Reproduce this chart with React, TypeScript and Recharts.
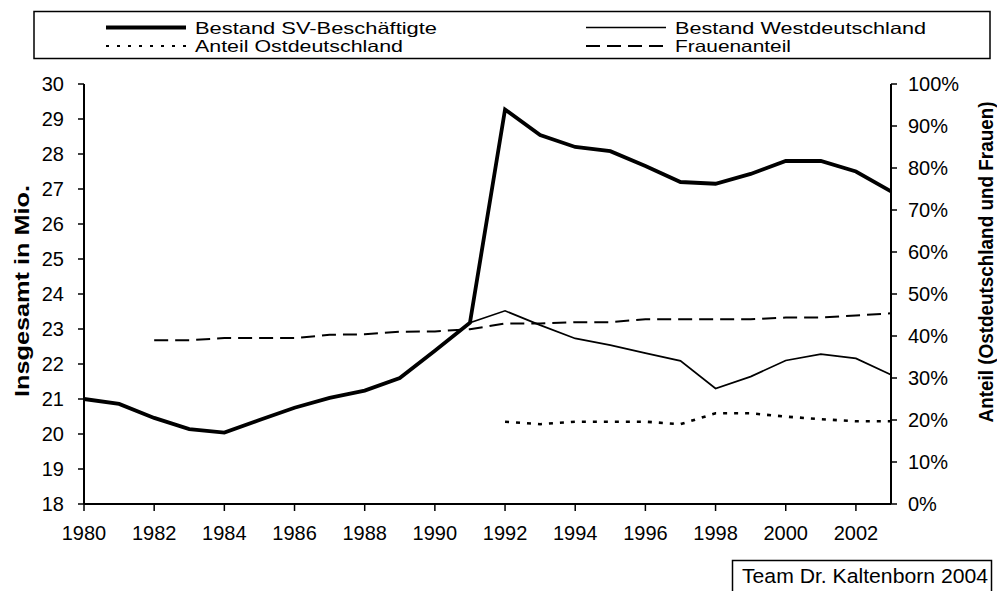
import { Line, LineChart, XAxis, YAxis } from "recharts";

const years = [
  1980, 1981, 1982, 1983, 1984, 1985, 1986, 1987, 1988, 1989, 1990, 1991,
  1992, 1993, 1994, 1995, 1996, 1997, 1998, 1999, 2000, 2001, 2002, 2003,
];

// Mio. Beschäftigte
const svTotal = [
  21.0, 20.86, 20.46, 20.14, 20.04, 20.4, 20.75, 21.03, 21.24, 21.6, 22.38, 23.18,
  29.27, 28.54, 28.2, 28.08, 27.66, 27.2, 27.15, 27.43, 27.8, 27.8, 27.5, 26.93,
];
const westTotal = [
  21.0, 20.86, 20.46, 20.14, 20.04, 20.4, 20.75, 21.03, 21.24, 21.6, 22.38, 23.18,
  23.52, 23.11, 22.73, 22.54, 22.31, 22.09, 21.3, 21.64, 22.1, 22.28, 22.16, 21.69,
];

// Anteile in %
const eastShare = [
  null, null, null, null, null, null, null, null, null, null, null, null,
  19.6, 19.0, 19.6, 19.6, 19.6, 19.0, 21.6, 21.6, 20.8, 20.2, 19.7, 19.7,
];
const womenShare = [
  null, null, 39.0, 39.0, 39.5, 39.5, 39.5, 40.3, 40.4, 41.0, 41.1, 41.6,
  43.0, 43.0, 43.3, 43.3, 44.0, 44.0, 44.0, 44.0, 44.4, 44.4, 44.9, 45.4,
];

const xTicks = [1980, 1982, 1984, 1986, 1988, 1990, 1992, 1994, 1996, 1998, 2000, 2002];
const leftTicks = [18, 19, 20, 21, 22, 23, 24, 25, 26, 27, 28, 29, 30];
const rightTicks = [0, 10, 20, 30, 40, 50, 60, 70, 80, 90, 100];

const series = [
  { key: "sv", name: "Bestand SV-Beschäftigte", axis: "left", width: 3.8, dash: undefined, col: 0, row: 0, textW: 242 },
  { key: "west", name: "Bestand Westdeutschland", axis: "left", width: 1.7, dash: undefined, col: 1, row: 0, textW: 251 },
  { key: "east", name: "Anteil Ostdeutschland", axis: "right", width: 2.6, dash: "4 7", col: 0, row: 1, textW: 208 },
  { key: "women", name: "Frauenanteil", axis: "right", width: 2, dash: "14 7", col: 1, row: 1, textW: 116 },
];

const data = years.map((y, i) => ({
  year: y,
  sv: svTotal[i],
  west: westTotal[i],
  east: eastShare[i],
  women: womenShare[i],
}));

const font = '"Liberation Sans", Arial, sans-serif';
const tickStyle = { fill: "#000", fontSize: 20, fontFamily: font };

const legendCols = [106, 586];
const legendRows = [27.5, 46];

export default function App() {
  // draw order: thin lines first, thick total on top
  const drawOrder = [series[3], series[2], series[1], series[0]];
  return (
    <div style={{ position: "absolute", left: 0, top: 0, width: 997, height: 591, background: "#fff" }}>
      <LineChart width={997} height={591} data={data} margin={{ top: 84, right: 26, bottom: 57, left: 24 }}>
        <XAxis
          dataKey="year"
          type="number"
          domain={[1980, 2003]}
          ticks={xTicks}
          interval={0}
          height={30}
          tick={tickStyle}
          tickSize={7}
          tickMargin={15}
          axisLine={{ stroke: "#000", strokeWidth: 2 }}
          tickLine={{ stroke: "#000", strokeWidth: 1.5 }}
        />
        <YAxis
          yAxisId="left"
          domain={[18, 30]}
          ticks={leftTicks}
          interval={0}
          width={60}
          tick={tickStyle}
          tickSize={6}
          tickMargin={14}
          axisLine={{ stroke: "#000", strokeWidth: 2 }}
          tickLine={{ stroke: "#000", strokeWidth: 1.5 }}
        />
        <YAxis
          yAxisId="right"
          orientation="right"
          domain={[0, 100]}
          ticks={rightTicks}
          interval={0}
          width={80}
          tick={tickStyle}
          tickFormatter={(v: number) => `${v}%`}
          tickSize={6}
          tickMargin={11}
          axisLine={{ stroke: "#000", strokeWidth: 2 }}
          tickLine={{ stroke: "#000", strokeWidth: 1.5 }}
        />
        {drawOrder.map((s) => (
          <Line
            key={s.key}
            yAxisId={s.axis}
            dataKey={s.key}
            name={s.name}
            type="linear"
            stroke="#000"
            strokeWidth={s.width}
            strokeDasharray={s.dash}
            dot={false}
            activeDot={false}
            isAnimationActive={false}
          />
        ))}
      </LineChart>

      <svg width={997} height={591} style={{ position: "absolute", left: 0, top: 0, pointerEvents: "none" }}>
        {/* legend */}
        <rect x={34} y={11.5} width={956} height={47} fill="#fff" stroke="#000" strokeWidth={1.5} />
        {series.map((s) => (
          <g key={s.key}>
            <line
              x1={legendCols[s.col]}
              x2={legendCols[s.col] + 80}
              y1={legendRows[s.row]}
              y2={legendRows[s.row]}
              stroke="#000"
              strokeWidth={s.key === "east" ? 2 : s.width}
              strokeDasharray={s.key === "east" ? "3 8" : s.dash}
            />
            <text
              x={legendCols[s.col] + 89}
              y={legendRows[s.row] + 6}
              fontFamily={font}
              fontSize={16.5}
              textLength={s.textW}
              lengthAdjust="spacingAndGlyphs"
              fill="#000"
            >
              {s.name}
            </text>
          </g>
        ))}

        {/* axis titles */}
        <text
          transform="translate(29,291) rotate(-90)"
          textAnchor="middle"
          fontFamily={font}
          fontWeight="bold"
          fontSize={21}
          textLength={212}
          lengthAdjust="spacingAndGlyphs"
          fill="#000"
        >
          Insgesamt in Mio.
        </text>
        <text
          transform="translate(993,262) rotate(-90)"
          textAnchor="middle"
          fontFamily={font}
          fontWeight="bold"
          fontSize={19.5}
          textLength={321}
          lengthAdjust="spacingAndGlyphs"
          fill="#000"
        >
          Anteil (Ostdeutschland und Frauen)
        </text>

        {/* source box */}
        <rect x={732.5} y={560.5} width={259} height={40} fill="#fff" stroke="#000" strokeWidth={1.5} />
        <text x={742} y={583} fontFamily={font} fontSize={20.5} textLength={246} lengthAdjust="spacingAndGlyphs" fill="#000">
          Team Dr. Kaltenborn 2004
        </text>
      </svg>
    </div>
  );
}
